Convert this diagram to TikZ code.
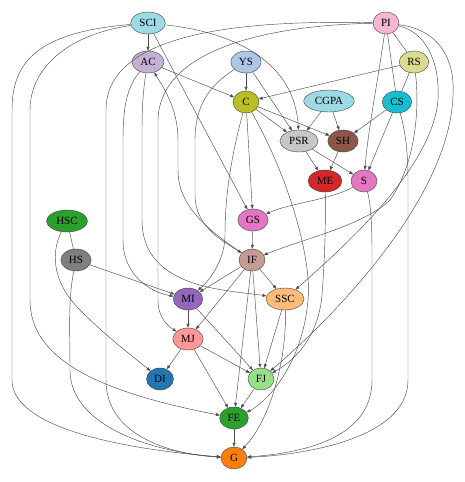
\documentclass[tikz,border=0pt]{standalone}
\usepackage{fontspec}
\setmainfont{Liberation Serif}
\usetikzlibrary{shapes.geometric,arrows.meta}
\definecolor{lblue}{HTML}{9EDAE5}
\definecolor{lpink}{HTML}{F7B6D2}
\definecolor{lpurple}{HTML}{C5B0D5}
\definecolor{sky}{HTML}{AEC7E8}
\definecolor{lolive}{HTML}{DBDB8D}
\definecolor{olive}{HTML}{BCBD22}
\definecolor{cyan}{HTML}{17BECF}
\definecolor{lgray}{HTML}{C7C7C7}
\definecolor{brown}{HTML}{8C564B}
\definecolor{red}{HTML}{D62728}
\definecolor{pink}{HTML}{E377C2}
\definecolor{green}{HTML}{2CA02C}
\definecolor{gray}{HTML}{7F7F7F}
\definecolor{lbrown}{HTML}{C49C94}
\definecolor{purple}{HTML}{9467BD}
\definecolor{lorange}{HTML}{FFBB78}
\definecolor{salmon}{HTML}{FF9896}
\definecolor{blue}{HTML}{1F77B4}
\definecolor{lgreen}{HTML}{98DF8A}
\definecolor{orange}{HTML}{FF7F0E}
\begin{document}
\begin{tikzpicture}[x=1pt,y=-1pt,
	nd/.style={ellipse,draw=black!75,line width=0.4pt,inner xsep=3.7pt,inner ysep=1pt,minimum width=26pt,minimum height=22pt,font=\fontsize{11}{13}\selectfont},
	ed/.style={draw=black!70,line width=0.45pt,-{Triangle[length=4pt,width=3pt]}},
	ln/.style={draw=black!70,line width=0.45pt}]
	\useasboundingbox (0,0) rectangle (465,482);
	% nodes
	\node[nd,fill=lblue] (SCI) at (148,23) {SCI};
	\node[nd,fill=lpink] (PI) at (386,23) {PI};
	\node[nd,fill=lpurple] (AC) at (148,62) {AC};
	\node[nd,fill=sky] (YS) at (246,62) {YS};
	\node[nd,fill=lolive] (RS) at (414,62) {RS};
	\node[nd,fill=olive] (C) at (246,102) {C};
	\node[nd,fill=lblue] (CGPA) at (329,101) {CGPA};
	\node[nd,fill=cyan] (CS) at (397,102) {CS};
	\node[nd,fill=lgray] (PSR) at (299,141) {PSR};
	\node[nd,fill=brown] (SH) at (343,141) {SH};
	\node[nd,fill=red] (ME) at (325,181) {ME};
	\node[nd,fill=pink] (S) at (364,181) {S};
	\node[nd,fill=green] (HSC) at (67,221) {HSC};
	\node[nd,fill=pink] (GS) at (253,220) {GS};
	\node[nd,fill=gray] (HS) at (76,260) {HS};
	\node[nd,fill=lbrown] (IF) at (252,260) {IF};
	\node[nd,fill=purple] (MI) at (188,299) {MI};
	\node[nd,fill=lorange] (SSC) at (285,299) {SSC};
	\node[nd,fill=salmon] (MJ) at (188,339) {MJ};
	\node[nd,fill=blue] (DI) at (160,379) {DI};
	\node[nd,fill=lgreen] (FJ) at (261,379) {FJ};
	\node[nd,fill=green] (FE) at (234,418) {FE};
	\node[nd,fill=orange] (G) at (234,458) {G};
	% edges from the top rows
	\draw[ed] (SCI) -- (AC);
	\draw[ed] (SCI) -- (GS);
	\draw[ed] (SCI) .. controls (240,33) and (295,65) .. (PSR);
	\draw[ed] (SCI) .. controls (40,32) and (12,60) .. (12,110) -- (12,380) .. controls (12,425) and (110,448) .. (G);
	\draw[ed] (SCI) .. controls (65,35) and (30,70) .. (30,110) -- (30,300) .. controls (30,360) and (100,392) .. (FE);
	\draw[ed] (PI) .. controls (250,20) and (106,30) .. (106,110) -- (106,380) .. controls (106,440) and (180,455) .. (G);
	\draw[ed] (PI) .. controls (280,25) and (160,45) .. (158,120) -- (158,300) .. controls (158,318) and (168,326) .. (MJ);
	\draw[ln] (PI) -- (RS);
	\draw[ln] (PI) -- (CS);
	\draw[ln] (RS) -- (CS);
	\draw[ed] (PI) .. controls (378,80) and (368,130) .. (S);
	\draw[ed] (PI) .. controls (425,32) and (440,60) .. (438,100) .. controls (432,170) and (340,250) .. (SSC);
	\draw[ed] (PI) .. controls (440,30) and (455,60) .. (453,95) .. controls (450,200) and (330,320) .. (FJ);
	\draw[ed] (RS) -- (C);
	\draw[ed] (RS) .. controls (420,110) and (415,165) .. (390,200) .. controls (365,225) and (300,240) .. (IF);
	\draw[ed] (AC) -- (C);
	\draw[ed] (AC) .. controls (126,88) and (123,110) .. (123,140) -- (123,240) .. controls (123,275) and (150,292) .. (MI);
	\draw[ed] (AC) .. controls (143,90) and (142,110) .. (142,130) -- (142,220) .. controls (142,290) and (230,290) .. (SSC);
	\draw[ed] (IF) .. controls (205,228) and (178,205) .. (178,170) -- (178,140) .. controls (178,110) and (165,90) .. (AC);
	\draw[ed] (YS) -- (C);
	\draw[ed] (YS) -- (PSR);
	\draw[ed] (YS) .. controls (210,85) and (195,105) .. (195,140) -- (195,195) .. controls (195,228) and (225,242) .. (IF);
	% middle
	\draw[ed] (C) -- (PSR);
	\draw[ed] (C) -- (SH);
	\draw[ed] (C) -- (GS);
	\draw[ed] (C) .. controls (230,160) and (225,200) .. (225,235) .. controls (225,258) and (212,278) .. (MI);
	\draw[ed] (C) .. controls (290,180) and (312,260) .. (308,300) .. controls (302,370) and (262,405) .. (FE);
	\draw[ed] (CGPA) -- (PSR);
	\draw[ed] (CGPA) -- (SH);
	\draw[ed] (CS) -- (SH);
	\draw[ed] (CS) -- (S);
	\draw[ed] (CS) .. controls (405,130) and (408,150) .. (408,180) -- (408,380) .. controls (408,440) and (300,455) .. (G);
	\draw[ed] (PSR) -- (ME);
	\draw[ed] (PSR) -- (S);
	\draw[ed] (SH) -- (ME);
	\draw[ed] (S) .. controls (330,200) and (290,203) .. (GS);
	\draw[ed] (S) .. controls (370,200) and (372,220) .. (372,250) -- (372,380) .. controls (372,440) and (300,453) .. (G);
	\draw[ed] (ME) .. controls (326,230) and (324,270) .. (322,295) .. controls (318,340) and (292,362) .. (FJ);
	\draw[ed] (GS) -- (IF);
	% lower rows
	\draw[ln] (HSC) -- (HS);
	\draw[ed] (HSC) .. controls (52,250) and (50,280) .. (80,310) .. controls (110,340) and (135,358) .. (DI);
	\draw[ed] (HS) -- (MI);
	\draw[ed] (HS) .. controls (68,300) and (70,330) .. (70,370) .. controls (70,425) and (150,452) .. (G);
	\draw[ed] (IF) -- (MI);
	\draw[ed] (IF) -- (MJ);
	\draw[ed] (IF) -- (SSC);
	\draw[ed] (IF) -- (FJ);
	\draw[ed] (IF) -- (FE);
	\draw[ed] (MI) -- (MJ);
	\draw[ed] (MI) -- (FJ);
	\draw[ed] (MJ) -- (DI);
	\draw[ed] (MJ) -- (FE);
	\draw[ed] (MJ) -- (FJ);
	\draw[ed] (SSC) -- (FJ);
	\draw[ed] (SSC) .. controls (287,360) and (270,420) .. (G);
	\draw[ed] (FJ) -- (FE);
	\draw[ed] (FE) -- (G);
\end{tikzpicture}
\end{document}
